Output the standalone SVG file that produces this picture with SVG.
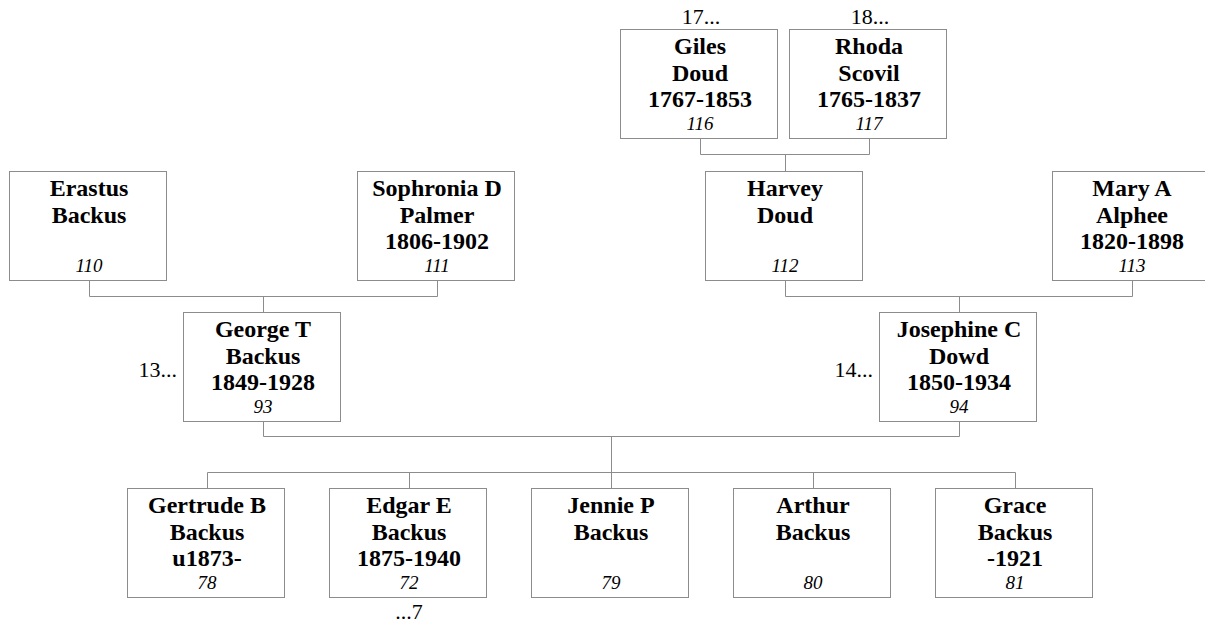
<svg xmlns="http://www.w3.org/2000/svg" width="1205" height="626" viewBox="0 0 1205 626">
<style>
.box{fill:#fff;stroke:#8c8c8c;stroke-width:1}
.n{font-family:"Liberation Serif","Times New Roman",serif;font-weight:bold;font-size:24px;fill:#000;text-anchor:middle}
.id{font-family:"Liberation Serif","Times New Roman",serif;font-style:italic;font-size:19px;fill:#000;text-anchor:middle}
.ref{font-family:"Liberation Serif","Times New Roman",serif;font-size:22px;fill:#000}
.conn{fill:none;stroke:#8c8c8c;stroke-width:1}
</style>
<rect width="1205" height="626" fill="#fff"/>
<g id="connectors">
<polyline class="conn" points="700.5,138.5 700.5,154.5 869.5,154.5 869.5,138.5"/>
<line class="conn" x1="785.5" y1="154.5" x2="785.5" y2="171.5"/>
<polyline class="conn" points="89.5,280.5 89.5,296.5 437.5,296.5 437.5,280.5"/>
<line class="conn" x1="263.5" y1="296.5" x2="263.5" y2="312.5"/>
<polyline class="conn" points="785.5,280.5 785.5,296.5 1132.5,296.5 1132.5,280.5"/>
<line class="conn" x1="959.5" y1="296.5" x2="959.5" y2="312.5"/>
<polyline class="conn" points="263.5,421.5 263.5,436.5 959.5,436.5 959.5,421.5"/>
<line class="conn" x1="611.5" y1="436.5" x2="611.5" y2="472.5"/>
<line class="conn" x1="207.5" y1="472.5" x2="1015.5" y2="472.5"/>
<line class="conn" x1="207.5" y1="472.5" x2="207.5" y2="488.5"/>
<line class="conn" x1="409.5" y1="472.5" x2="409.5" y2="488.5"/>
<line class="conn" x1="611.5" y1="472.5" x2="611.5" y2="488.5"/>
<line class="conn" x1="813.5" y1="472.5" x2="813.5" y2="488.5"/>
<line class="conn" x1="1015.5" y1="472.5" x2="1015.5" y2="488.5"/>
</g>
<g id="giles" transform="translate(620,29)">
<rect class="box" x="0.5" y="0.5" width="157" height="109"/>
<text class="n" x="80" y="25">Giles</text><text class="n" x="80" y="51.5">Doud</text><text class="n" x="80" y="78">1767-1853</text><text class="id" x="80" y="101">116</text>
</g>
<g id="rhoda" transform="translate(789,29)">
<rect class="box" x="0.5" y="0.5" width="157" height="109"/>
<text class="n" x="80" y="25">Rhoda</text><text class="n" x="80" y="51.5">Scovil</text><text class="n" x="80" y="78">1765-1837</text><text class="id" x="80" y="101">117</text>
</g>
<g id="erastus" transform="translate(9,171)">
<rect class="box" x="0.5" y="0.5" width="157" height="109"/>
<text class="n" x="80" y="25">Erastus</text><text class="n" x="80" y="51.5">Backus</text><text class="id" x="80" y="101">110</text>
</g>
<g id="sophronia" transform="translate(357,171)">
<rect class="box" x="0.5" y="0.5" width="157" height="109"/>
<text class="n" x="80" y="25">Sophronia D</text><text class="n" x="80" y="51.5">Palmer</text><text class="n" x="80" y="78">1806-1902</text><text class="id" x="80" y="101">111</text>
</g>
<g id="harvey" transform="translate(705,171)">
<rect class="box" x="0.5" y="0.5" width="157" height="109"/>
<text class="n" x="80" y="25">Harvey</text><text class="n" x="80" y="51.5">Doud</text><text class="id" x="80" y="101">112</text>
</g>
<g id="mary" transform="translate(1052,171)">
<rect class="box" x="0.5" y="0.5" width="157" height="109"/>
<text class="n" x="80" y="25">Mary A</text><text class="n" x="80" y="51.5">Alphee</text><text class="n" x="80" y="78">1820-1898</text><text class="id" x="80" y="101">113</text>
</g>
<g id="george" transform="translate(183,312)">
<rect class="box" x="0.5" y="0.5" width="157" height="109"/>
<text class="n" x="80" y="25">George T</text><text class="n" x="80" y="51.5">Backus</text><text class="n" x="80" y="78">1849-1928</text><text class="id" x="80" y="101">93</text>
</g>
<g id="josephine" transform="translate(879,312)">
<rect class="box" x="0.5" y="0.5" width="157" height="109"/>
<text class="n" x="80" y="25">Josephine C</text><text class="n" x="80" y="51.5">Dowd</text><text class="n" x="80" y="78">1850-1934</text><text class="id" x="80" y="101">94</text>
</g>
<g id="gertrude" transform="translate(127,488)">
<rect class="box" x="0.5" y="0.5" width="157" height="109"/>
<text class="n" x="80" y="25">Gertrude B</text><text class="n" x="80" y="51.5">Backus</text><text class="n" x="80" y="78">u1873-</text><text class="id" x="80" y="101">78</text>
</g>
<g id="edgar" transform="translate(329,488)">
<rect class="box" x="0.5" y="0.5" width="157" height="109"/>
<text class="n" x="80" y="25">Edgar E</text><text class="n" x="80" y="51.5">Backus</text><text class="n" x="80" y="78">1875-1940</text><text class="id" x="80" y="101">72</text>
</g>
<g id="jennie" transform="translate(531,488)">
<rect class="box" x="0.5" y="0.5" width="157" height="109"/>
<text class="n" x="80" y="25">Jennie P</text><text class="n" x="80" y="51.5">Backus</text><text class="id" x="80" y="101">79</text>
</g>
<g id="arthur" transform="translate(733,488)">
<rect class="box" x="0.5" y="0.5" width="157" height="109"/>
<text class="n" x="80" y="25">Arthur</text><text class="n" x="80" y="51.5">Backus</text><text class="id" x="80" y="101">80</text>
</g>
<g id="grace" transform="translate(935,488)">
<rect class="box" x="0.5" y="0.5" width="157" height="109"/>
<text class="n" x="80" y="25">Grace</text><text class="n" x="80" y="51.5">Backus</text><text class="n" x="80" y="78">-1921</text><text class="id" x="80" y="101">81</text>
</g>
<g id="refs">
<text class="ref" x="701" y="24" text-anchor="middle">17...</text>
<text class="ref" x="870" y="24" text-anchor="middle">18...</text>
<text class="ref" x="177" y="377" text-anchor="end">13...</text>
<text class="ref" x="873" y="377" text-anchor="end">14...</text>
<text class="ref" x="409" y="619" text-anchor="middle">...7</text>
</g>
</svg>
